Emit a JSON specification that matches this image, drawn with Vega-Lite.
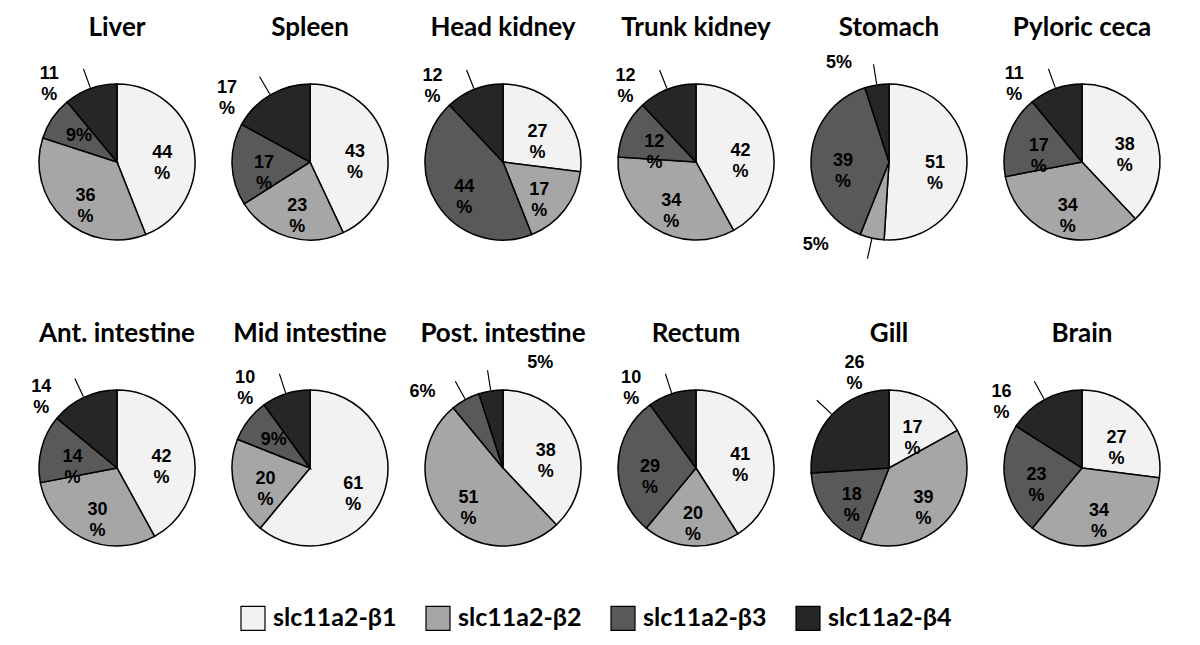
{
  "$schema": "https://vega.github.io/schema/vega-lite/v6.json",
  "background": "white",
  "padding": {"left": -15, "top": 15, "right": -30, "bottom": 5},
  "bounds": "flush",
  "data": {"values": [
    {"tissue": "Liver", "series": "slc11a2-β1", "pct": 44, "label": "44\n%", "placement": "in"},
    {"tissue": "Liver", "series": "slc11a2-β2", "pct": 36, "label": "36\n%", "placement": "in"},
    {"tissue": "Liver", "series": "slc11a2-β3", "pct": 9, "label": "9%", "placement": "in"},
    {"tissue": "Liver", "series": "slc11a2-β4", "pct": 11, "label": "11\n%", "placement": "out"},
    {"tissue": "Spleen", "series": "slc11a2-β1", "pct": 43, "label": "43\n%", "placement": "in"},
    {"tissue": "Spleen", "series": "slc11a2-β2", "pct": 23, "label": "23\n%", "placement": "in"},
    {"tissue": "Spleen", "series": "slc11a2-β3", "pct": 17, "label": "17\n%", "placement": "in"},
    {"tissue": "Spleen", "series": "slc11a2-β4", "pct": 17, "label": "17\n%", "placement": "out"},
    {"tissue": "Head kidney", "series": "slc11a2-β1", "pct": 27, "label": "27\n%", "placement": "in"},
    {"tissue": "Head kidney", "series": "slc11a2-β2", "pct": 17, "label": "17\n%", "placement": "in"},
    {"tissue": "Head kidney", "series": "slc11a2-β3", "pct": 44, "label": "44\n%", "placement": "in"},
    {"tissue": "Head kidney", "series": "slc11a2-β4", "pct": 12, "label": "12\n%", "placement": "out"},
    {"tissue": "Trunk kidney", "series": "slc11a2-β1", "pct": 42, "label": "42\n%", "placement": "in"},
    {"tissue": "Trunk kidney", "series": "slc11a2-β2", "pct": 34, "label": "34\n%", "placement": "in"},
    {"tissue": "Trunk kidney", "series": "slc11a2-β3", "pct": 12, "label": "12\n%", "placement": "in"},
    {"tissue": "Trunk kidney", "series": "slc11a2-β4", "pct": 12, "label": "12\n%", "placement": "out"},
    {"tissue": "Stomach", "series": "slc11a2-β1", "pct": 51, "label": "51\n%", "placement": "in"},
    {"tissue": "Stomach", "series": "slc11a2-β2", "pct": 5, "label": "5%", "placement": "outcw"},
    {"tissue": "Stomach", "series": "slc11a2-β3", "pct": 39, "label": "39\n%", "placement": "in"},
    {"tissue": "Stomach", "series": "slc11a2-β4", "pct": 5, "label": "5%", "placement": "out"},
    {"tissue": "Pyloric ceca", "series": "slc11a2-β1", "pct": 38, "label": "38\n%", "placement": "in"},
    {"tissue": "Pyloric ceca", "series": "slc11a2-β2", "pct": 34, "label": "34\n%", "placement": "in"},
    {"tissue": "Pyloric ceca", "series": "slc11a2-β3", "pct": 17, "label": "17\n%", "placement": "in"},
    {"tissue": "Pyloric ceca", "series": "slc11a2-β4", "pct": 11, "label": "11\n%", "placement": "out"},
    {"tissue": "Ant. intestine", "series": "slc11a2-β1", "pct": 42, "label": "42\n%", "placement": "in"},
    {"tissue": "Ant. intestine", "series": "slc11a2-β2", "pct": 30, "label": "30\n%", "placement": "in"},
    {"tissue": "Ant. intestine", "series": "slc11a2-β3", "pct": 14, "label": "14\n%", "placement": "in"},
    {"tissue": "Ant. intestine", "series": "slc11a2-β4", "pct": 14, "label": "14\n%", "placement": "out"},
    {"tissue": "Mid intestine", "series": "slc11a2-β1", "pct": 61, "label": "61\n%", "placement": "in"},
    {"tissue": "Mid intestine", "series": "slc11a2-β2", "pct": 20, "label": "20\n%", "placement": "in"},
    {"tissue": "Mid intestine", "series": "slc11a2-β3", "pct": 9, "label": "9%", "placement": "in"},
    {"tissue": "Mid intestine", "series": "slc11a2-β4", "pct": 10, "label": "10\n%", "placement": "out"},
    {"tissue": "Post. intestine", "series": "slc11a2-β1", "pct": 38, "label": "38\n%", "placement": "in"},
    {"tissue": "Post. intestine", "series": "slc11a2-β2", "pct": 51, "label": "51\n%", "placement": "in"},
    {"tissue": "Post. intestine", "series": "slc11a2-β3", "pct": 6, "label": "6%", "placement": "out"},
    {"tissue": "Post. intestine", "series": "slc11a2-β4", "pct": 5, "label": "5%", "placement": "outcw"},
    {"tissue": "Rectum", "series": "slc11a2-β1", "pct": 41, "label": "41\n%", "placement": "in"},
    {"tissue": "Rectum", "series": "slc11a2-β2", "pct": 20, "label": "20\n%", "placement": "in"},
    {"tissue": "Rectum", "series": "slc11a2-β3", "pct": 29, "label": "29\n%", "placement": "in"},
    {"tissue": "Rectum", "series": "slc11a2-β4", "pct": 10, "label": "10\n%", "placement": "out"},
    {"tissue": "Gill", "series": "slc11a2-β1", "pct": 17, "label": "17\n%", "placement": "in"},
    {"tissue": "Gill", "series": "slc11a2-β2", "pct": 39, "label": "39\n%", "placement": "in"},
    {"tissue": "Gill", "series": "slc11a2-β3", "pct": 18, "label": "18\n%", "placement": "in"},
    {"tissue": "Gill", "series": "slc11a2-β4", "pct": 26, "label": "26\n%", "placement": "outcw"},
    {"tissue": "Brain", "series": "slc11a2-β1", "pct": 27, "label": "27\n%", "placement": "in"},
    {"tissue": "Brain", "series": "slc11a2-β2", "pct": 34, "label": "34\n%", "placement": "in"},
    {"tissue": "Brain", "series": "slc11a2-β3", "pct": 23, "label": "23\n%", "placement": "in"},
    {"tissue": "Brain", "series": "slc11a2-β4", "pct": 16, "label": "16\n%", "placement": "out"}
  ]},
  "facet": {
    "field": "tissue",
    "type": "nominal",
    "sort": ["Liver", "Spleen", "Head kidney", "Trunk kidney", "Stomach", "Pyloric ceca", "Ant. intestine", "Mid intestine", "Post. intestine", "Rectum", "Gill", "Brain"],
    "header": {"title": null, "labelFont": "Lato", "labelFontSize": 26, "labelFontWeight": "bold", "labelColor": "black", "labelPadding": -11}
  },
  "columns": 6,
  "spacing": {"column": 37, "row": 150},
  "spec": {
    "width": 156,
    "height": 156,
    "encoding": {
      "theta": {"field": "pct", "type": "quantitative", "stack": true, "scale": {"domain": [0, 100]}},
      "order": {"field": "series", "sort": "ascending"}
    },
    "layer": [
      {
        "mark": {"type": "arc", "radius": 132, "opacity": 0}
      },
      {
        "mark": {"type": "arc", "radius": 78, "stroke": "black", "strokeWidth": 1.5},
        "encoding": {
          "color": {
            "field": "series", "type": "nominal",
            "scale": {"domain": ["slc11a2-β1", "slc11a2-β2", "slc11a2-β3", "slc11a2-β4"], "range": ["#f2f2f2", "#a6a6a6", "#595959", "#262626"]},
            "legend": {
              "title": null, "orient": "none", "direction": "horizontal", "legendX": 201, "legendY": 521,
              "symbolType": "square", "symbolSize": 576, "symbolStrokeColor": "black", "symbolStrokeWidth": 1.2, "symbolOpacity": 1,
              "labelFont": "Lato", "labelFontSize": 25, "labelFontWeight": "bold", "labelColor": "black", "labelOffset": 7, "columnPadding": 26
            }
          }
        }
      },
      {
        "mark": {"type": "arc", "radius": 99, "radius2": 79, "padAngle": 3, "fill": "transparent", "stroke": "black", "strokeWidth": 1.2},
        "encoding": {
          "strokeOpacity": {"condition": {"test": "datum.placement !== 'in'", "value": 1}, "value": 0}
        }
      },
      {
        "mark": {"type": "text", "radius": 46, "font": "Liberation Sans", "fontSize": 18, "fontWeight": "bold", "lineBreak": "\n", "lineHeight": 21, "color": "black", "baseline": "middle", "align": "center"},
        "encoding": {
          "text": {"condition": {"test": "datum.placement === 'in'", "field": "label"}, "value": ""}
        }
      },
      {
        "mark": {"type": "text", "radius": 111, "thetaOffset": -0.31, "font": "Liberation Sans", "fontSize": 18, "fontWeight": "bold", "lineBreak": "\n", "lineHeight": 21, "color": "black", "baseline": "middle", "align": "center"},
        "encoding": {
          "text": {"condition": {"test": "datum.placement === 'out'", "field": "label"}, "value": ""}
        }
      },
      {
        "mark": {"type": "text", "radius": 111, "thetaOffset": 0.5, "font": "Liberation Sans", "fontSize": 18, "fontWeight": "bold", "lineBreak": "\n", "lineHeight": 21, "color": "black", "baseline": "middle", "align": "center"},
        "encoding": {
          "text": {"condition": {"test": "datum.placement === 'outcw'", "field": "label"}, "value": ""}
        }
      }
    ]
  },
  "config": {"view": {"stroke": null}}
}
